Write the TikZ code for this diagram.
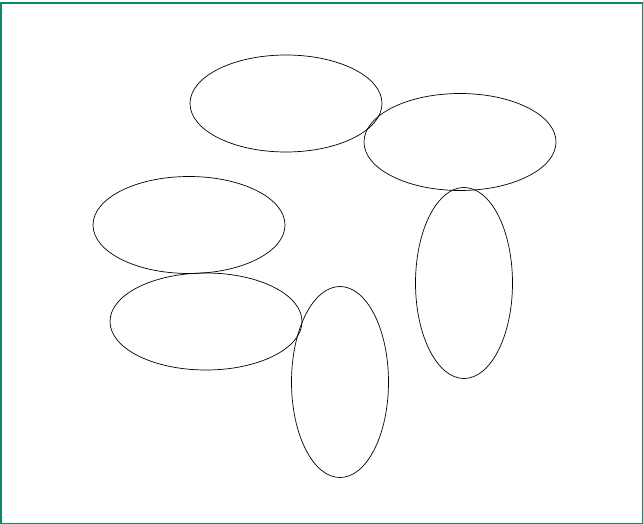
\documentclass[tikz,border=0pt]{standalone}
\usepackage{tikz}
\usetikzlibrary{shapes.geometric}
\definecolor{frame}{HTML}{0B876B}

\begin{document}
\begin{tikzpicture}[
  x=1pt,y=-1pt,
  blob/.style={ellipse,draw=black,line width=0.7pt,inner sep=0pt},
  wide/.style={blob,minimum width=192pt,minimum height=97pt},
  tall/.style={blob,minimum width=97pt,minimum height=191pt}]
  \useasboundingbox (0,0) rectangle (643,524);
  % frame
  \draw[frame,line width=2.2pt] (1.2,3) rectangle (642.9,524.2);
  % horizontal ellipses
  \node[wide] (top) at (286,103.5) {};
  \node[wide] (right) at (460,142) {};
  \node[wide] (left) at (189,225) {};
  \node[wide] (low) at (206,321.5) {};
  % vertical ellipses
  \node[tall] (bottom) at (340,382) {};
  \node[tall] (side) at (464,283) {};
\end{tikzpicture}
\end{document}
